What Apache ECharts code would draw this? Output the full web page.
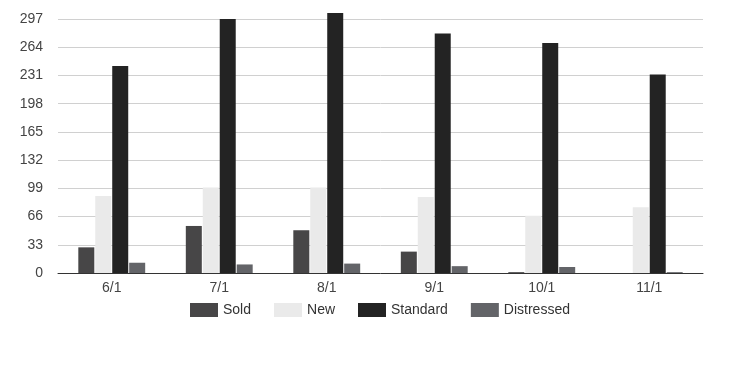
<!DOCTYPE html>
<html><head><meta charset="utf-8">
<script src="https://cdn.jsdelivr.net/npm/echarts@6/dist/echarts.min.js"></script>
<style>html,body{margin:0;padding:0;background:#fff}#c{width:738px;height:389px}</style>
</head><body><div id="c"></div>
<script>
var categories = ['6/1','7/1','8/1','9/1','10/1','11/1'];
var sold = [30, 55, 50, 25, 1, 0];
var newVals = [90, 100, 100, 89, 67, 77];
var standard = [242, 297, 304, 280, 269, 232];
var distressed = [12, 10, 11, 8, 7, 1];
var yTicks = {min: 0, max: 297, interval: 33};

var chart = echarts.init(document.getElementById('c'));
var font = 'Arial, "Liberation Sans", sans-serif';
function s(name, data, color) {
  return {name: name, type: 'bar', data: data, barWidth: 16, barGap: '6%', clip: false,
    itemStyle: {color: color}, emphasis: {disabled: true}};
}
chart.setOption({
  animation: false,
  grid: {left: 58, right: 35, top: 19, bottom: 116, containLabel: false},
  legend: {top: 303, left: 190, itemWidth: 28, itemHeight: 14, itemGap: 23, icon: 'rect', padding: 0,
    textStyle: {fontFamily: font, fontSize: 14, color: '#333'}},
  xAxis: {type: 'category', data: categories,
    axisLine: {lineStyle: {color: '#333', width: 1}}, axisTick: {show: false},
    axisLabel: {fontFamily: font, fontSize: 14, color: '#444', margin: 8}},
  yAxis: {type: 'value', min: yTicks.min, max: yTicks.max, interval: yTicks.interval,
    axisLine: {show: false}, axisTick: {show: false},
    splitLine: {lineStyle: {color: '#d0d0d0'}},
    axisLabel: {fontFamily: font, fontSize: 14, color: '#444', margin: 15}},
  series: [
    s('Sold', sold, '#474647'),
    s('New', newVals, '#eaeaea'),
    s('Standard', standard, '#232323'),
    s('Distressed', distressed, '#636468')
  ]
});
</script></body></html>
